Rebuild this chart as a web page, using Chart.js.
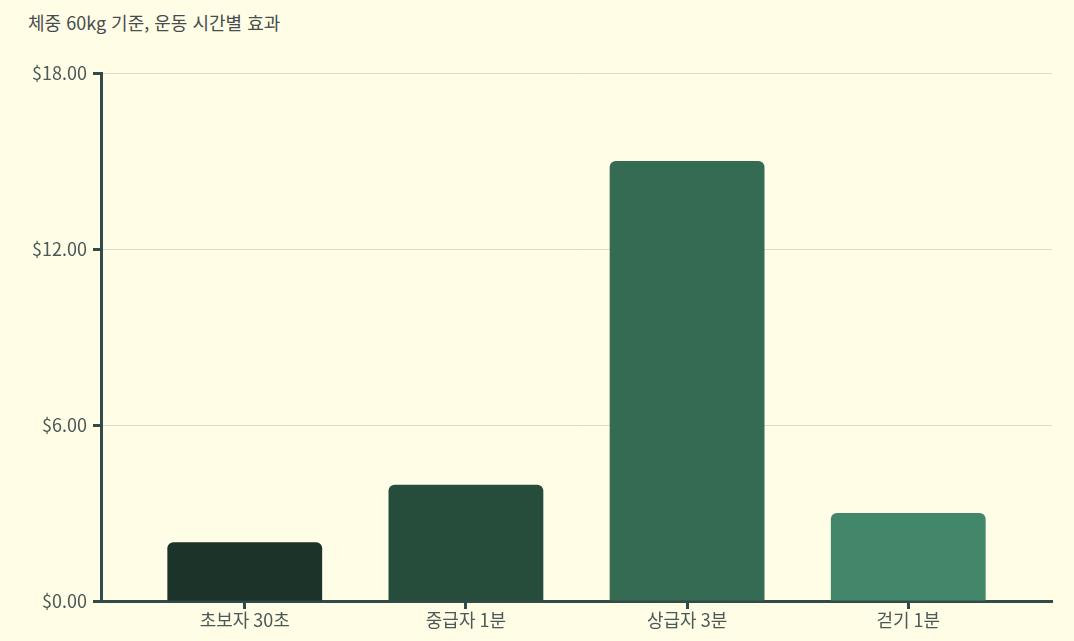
<!DOCTYPE html>
<html lang="ko">
<head>
<meta charset="utf-8">
<title>체중 60kg 기준, 운동 시간별 효과</title>
<script src="https://cdn.jsdelivr.net/npm/chart.js@4/dist/chart.umd.min.js"></script>
<style>
  html, body { margin:0; padding:0; background:#fffde6; }
  #wrap { position:relative; width:1074px; height:641px; }
  #title { position:absolute; left:28px; top:9px; font:18px/26px "Noto Sans CJK KR", "Noto Sans", sans-serif; color:#474c4c; }
  canvas { position:absolute; left:0; top:0; }
</style>
</head>
<body>
<div id="wrap">
  <div id="title">체중 60kg 기준, 운동 시간별 효과</div>
  <canvas id="chart" width="1074" height="641"></canvas>
</div>
<script>
// categories + values
const CATEGORIES = ["초보자 30초", "중급자 1분", "상급자 3분", "걷기 1분"];
const VALUES = [2, 3.96, 15, 3];
const BAR_COLORS = ["#1b3329", "#264d3c", "#356a53", "#43876a"];
const Y_TICKS = [0, 6, 12, 18];

const AXIS = "#304b49", LABEL = "#4b5957", GRID = "#dcdccb";
const FONT = "'Noto Sans CJK KR', 'Noto Sans', sans-serif";

Chart.defaults.font.family = FONT;
Chart.defaults.color = LABEL;

new Chart(document.getElementById("chart"), {
  type: "bar",
  data: {
    datasets: [{
      data: VALUES.map((v, i) => ({ x: i, y: v })),
      backgroundColor: BAR_COLORS,
      borderRadius: { topLeft: 6, topRight: 6 },
      borderSkipped: "bottom",
      categoryPercentage: 1,
      barPercentage: 0.7
    }]
  },
  options: {
    responsive: false,
    animation: false,
    layout: { padding: { left: 20, right: 22, top: 73, bottom: 0 } },
    plugins: { legend: { display: false }, tooltip: { enabled: false } },
    scales: {
      x: {
        type: "linear",
        min: -0.65, max: 3.65,
        offset: false,
        afterBuildTicks: s => { s.ticks = CATEGORIES.map((_, i) => ({ value: i })); },
        afterFit: s => { s.height = 40; },
        border: { color: AXIS, width: 3 },
        grid: { offset: false, drawOnChartArea: false, tickColor: AXIS, tickWidth: 3, tickLength: 8 },
        ticks: { font: { size: 18 }, color: LABEL, padding: 0, maxRotation: 0,
                 callback: v => CATEGORIES[v] ?? "" }
      },
      y: {
        min: 0, max: 18,
        afterBuildTicks: s => { s.ticks = Y_TICKS.map(v => ({ value: v })); },
        afterFit: s => { s.width = 81; },
        border: { color: AXIS, width: 3 },
        grid: { color: GRID, lineWidth: 1, tickColor: AXIS, tickWidth: 3, tickLength: 8 },
        ticks: { font: { size: 18 }, color: LABEL, padding: 6,
                 callback: v => "$" + v.toFixed(2) }
      }
    }
  }
});
</script>
</body>
</html>
